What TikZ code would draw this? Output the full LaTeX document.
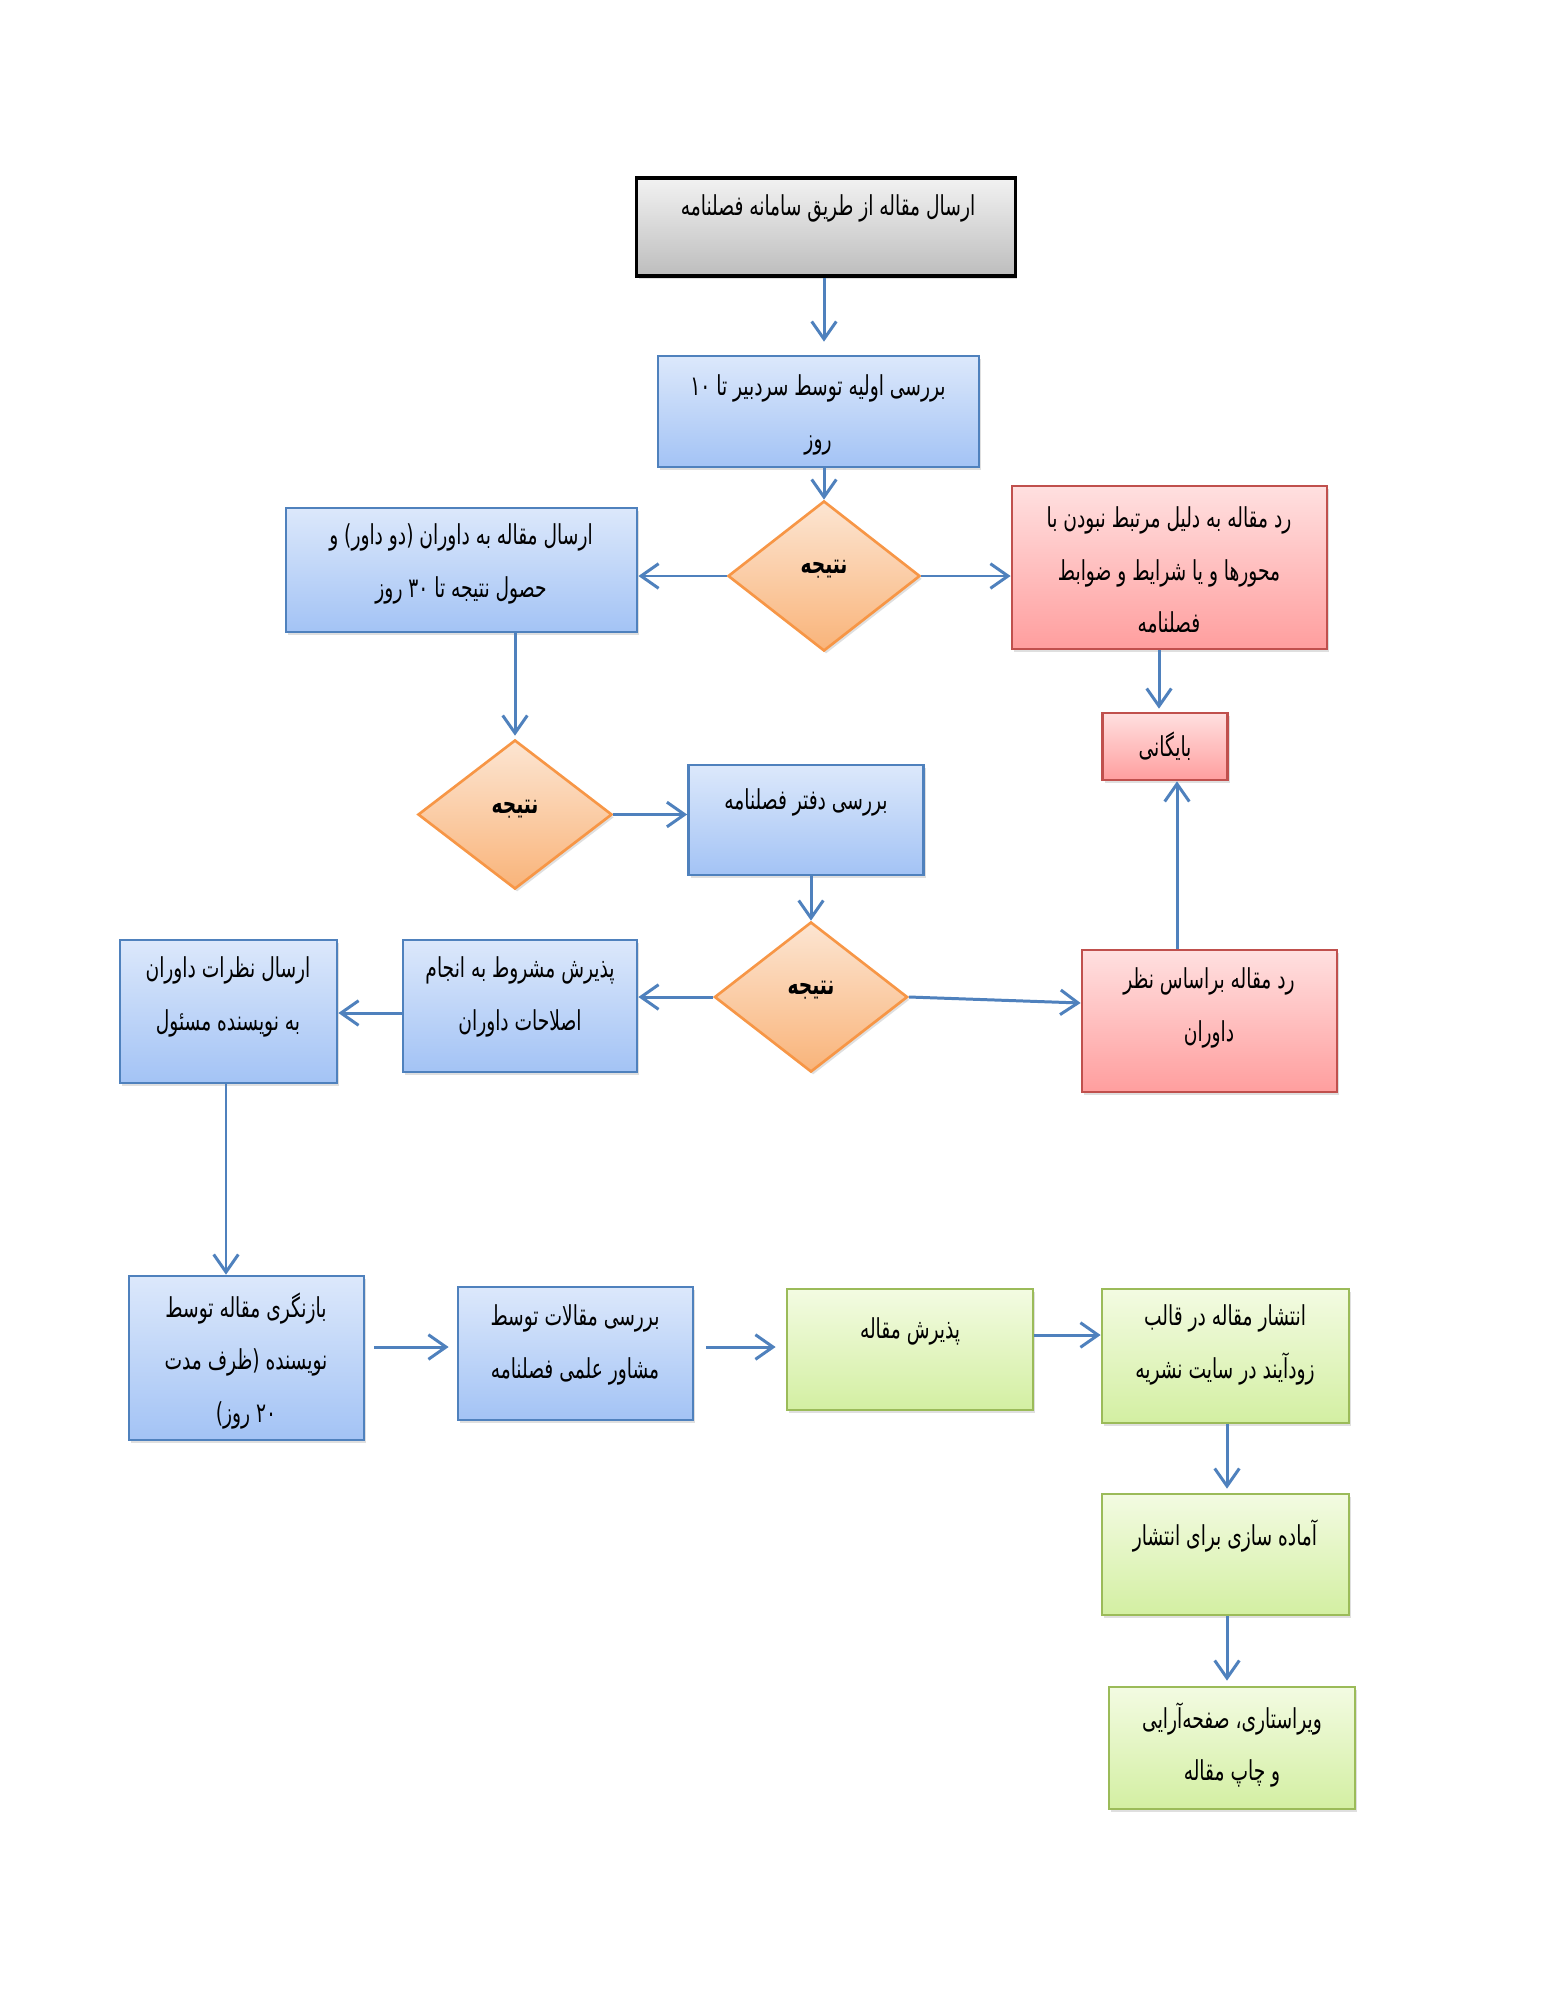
\documentclass[tikz,border=0pt]{standalone}
\usepackage{fontspec}
\TeXXeTstate=1
\newfontfamily\fa[Script=Arabic,FakeStretch=0.68]{DejaVu Sans}
\usetikzlibrary{shapes.geometric,arrows.meta,shadows,calc}
\definecolor{arrblue}{HTML}{4F81BD}
\definecolor{bluetop}{HTML}{DCE8FB}
\definecolor{bluebot}{HTML}{A3C3F5}
\definecolor{blueedge}{HTML}{4F81BD}
\definecolor{orangetop}{HTML}{FCE5D2}
\definecolor{orangebot}{HTML}{F9B47A}
\definecolor{orangeedge}{HTML}{F79646}
\definecolor{redtop}{HTML}{FFE0E0}
\definecolor{redbot}{HTML}{FF9E9E}
\definecolor{rededge}{HTML}{C0504D}
\definecolor{greentop}{HTML}{F3FBE2}
\definecolor{greenbot}{HTML}{D3EFA2}
\definecolor{greenedge}{HTML}{9BBB59}
\definecolor{graytop}{HTML}{F2F2F2}
\definecolor{graybot}{HTML}{BDBDBD}
\begin{document}
\begin{tikzpicture}[x=0.01cm,y=-0.01cm,
  shade/.style={drop shadow={opacity=0.25,shadow xshift=0.6pt,shadow yshift=-0.8pt}},
  basebox/.style={rectangle,inner sep=0pt,shade},
  graybox/.style={basebox,draw=black,line width=0.9pt,top color=graytop,bottom color=graybot},
  bluebox/.style={basebox,draw=blueedge,line width=0.75pt,top color=bluetop,bottom color=bluebot},
  redbox/.style={basebox,draw=rededge,line width=0.75pt,top color=redtop,bottom color=redbot},
  greenbox/.style={basebox,draw=greenedge,line width=0.75pt,top color=greentop,bottom color=greenbot},
  decision/.style={diamond,inner sep=0pt,shade,draw=orangeedge,line width=0.75pt,top color=orangetop,bottom color=orangebot},
  txt/.style={font=\fa\fontsize{7.8}{15}\selectfont,align=center,inner sep=0pt},
  dtxt/.style={font=\fa\bfseries\fontsize{7.8}{15}\selectfont,align=center,inner sep=0pt},
  arr/.style={draw=arrblue,line width=0.85pt,-{Straight Barb[length=5pt,width=7pt,line width=0.85pt]}}
]
\fill[white] (0,0) rectangle (1545,2000);
\useasboundingbox (0,0) rectangle (1545,2000);

% boxes
\node[graybox,minimum width=3.78cm,minimum height=0.98cm] (g) at (826,227) {};
\node[bluebox,minimum width=3.21cm,minimum height=1.11cm] (b2) at (818.5,411.5) {};
\node[decision,minimum width=1.92cm,minimum height=1.50cm] (d1) at (824,576) {};
\node[bluebox,minimum width=3.51cm,minimum height=1.24cm] (b3) at (461.5,570) {};
\node[redbox,minimum width=3.15cm,minimum height=1.63cm] (r1) at (1169.5,567.5) {};
\node[redbox,minimum width=1.25cm,minimum height=0.67cm] (arch) at (1165,746.5) {};
\node[decision,minimum width=1.94cm,minimum height=1.49cm] (d2) at (515,814.5) {};
\node[bluebox,minimum width=2.35cm,minimum height=1.10cm] (b4) at (806,820) {};
\node[decision,minimum width=1.93cm,minimum height=1.50cm] (d3) at (811,997) {};
\node[redbox,minimum width=2.55cm,minimum height=1.42cm] (r2) at (1209.5,1021) {};
\node[bluebox,minimum width=2.34cm,minimum height=1.32cm] (b5) at (520,1006) {};
\node[bluebox,minimum width=2.17cm,minimum height=1.43cm] (b6) at (228.5,1011.5) {};
\node[bluebox,minimum width=2.35cm,minimum height=1.64cm] (b7) at (246.5,1358) {};
\node[bluebox,minimum width=2.35cm,minimum height=1.33cm] (b8) at (575.5,1353.5) {};
\node[greenbox,minimum width=2.46cm,minimum height=1.21cm] (gr1) at (910,1349.5) {};
\node[greenbox,minimum width=2.47cm,minimum height=1.34cm] (gr2) at (1225.5,1356) {};
\node[greenbox,minimum width=2.47cm,minimum height=1.21cm] (gr3) at (1225.5,1554.5) {};
\node[greenbox,minimum width=2.46cm,minimum height=1.22cm] (gr4) at (1232,1748) {};

% texts
\node[txt] (tg) at (828,208) {\beginR ارسال مقاله از طریق سامانه فصلنامه\endR};
\node[txt] (tb2) at (818,415) {\beginR بررسی اولیه توسط سردبیر تا \beginL ۱۰\endL{}\endR\\\beginR روز\endR};
\node[dtxt] (td1) at (824,569) {\beginR نتیجه\endR};
\node[txt] (tb3) at (461,564) {\beginR ارسال مقاله به داوران (دو داور) و\endR\\\beginR حصول نتیجه تا \beginL ۳۰\endL{} روز\endR};
\node[txt] (tr1) at (1169,570) {\beginR رد مقاله به دلیل مرتبط نبودن با\endR\\\beginR محورها و یا شرایط و ضوابط\endR\\\beginR فصلنامه\endR};
\node[txt] (tarch) at (1165,746) {\beginR بایگانی\endR};
\node[dtxt] (td2) at (515,809) {\beginR نتیجه\endR};
\node[txt] (tb4) at (806,802) {\beginR بررسی دفتر فصلنامه\endR};
\node[dtxt] (td3) at (811,990) {\beginR نتیجه\endR};
\node[txt] (tb5) at (520,997) {\beginR پذیرش مشروط به انجام\endR\\\beginR اصلاحات داوران\endR};
\node[txt] (tb6) at (228,997) {\beginR ارسال نظرات داوران\endR\\\beginR به نویسنده مسئول\endR};
\node[txt] (tr2) at (1209,1008) {\beginR رد مقاله براساس نظر\endR\\\beginR داوران\endR};
\node[txt] (tb7) at (246,1361) {\beginR بازنگری مقاله توسط\endR\\\beginR نویسنده (ظرف مدت\endR\\\beginR \beginL ۲۰\endL{} روز)\endR};
\node[txt] (tb8) at (575,1345) {\beginR بررسی مقالات توسط\endR\\\beginR مشاور علمی فصلنامه\endR};
\node[txt] (tgr1) at (910,1331) {\beginR پذیرش مقاله\endR};
\node[txt] (tgr2) at (1225,1345) {\beginR انتشار مقاله در قالب\endR\\\beginR زودآیند در سایت نشریه\endR};
\node[txt] (tgr3) at (1225,1536) {\beginR آماده سازی برای انتشار\endR};
\node[txt] (tgr4) at (1232,1745) {\beginR ویراستاری، صفحه‌آرایی\endR\\\beginR و چاپ مقاله\endR};

% connectors
\draw[arr,shorten >=0.13cm] ($(g.south)+(-2,0)$) -- ($(b2.north)+(5.5,0)$);
\draw[arr] ($(b2.south)+(5.5,0)$) -- (d1.north);
\draw[arr] (d1.west) -- (d1.west -| b3.east);
\draw[arr] (d1.east) -- (d1.east -| r1.west);
\draw[arr,shorten >=0.03cm] ($(b3.south)+(53.5,0)$) -- (d2.north);
\draw[arr,shorten >=0.03cm] ($(r1.south)+(-10.5,0)$) -- ($(arch.north)+(-6,0)$);
\draw[arr] (d2.east) -- (d2.east -| b4.west);
\draw[arr] ($(b4.south)+(5,0)$) -- (d3.north);
\draw[arr] (d3.west) -- (d3.west -| b5.east);
\draw[arr] (d3.east) -- ($(r2.west)+(0,-18)$);
\draw[arr] ($(r2.north)+(-32.5,0)$) -- ($(arch.south)+(12,0)$);
\draw[arr] ($(b5.west)+(0,7)$) -- ($(b6.east)+(0,1.5)$);
\draw[arr] ($(b6.south)+(-2.5,0)$) -- ($(b7.north)+(-20.5,0)$);
\draw[arr,shorten <=0.09cm,shorten >=0.08cm] ($(b7.east)+(0,-11)$) -- ($(b8.west)+(0,-6.5)$);
\draw[arr,shorten <=0.12cm,shorten >=0.10cm] ($(b8.east)+(0,-6.5)$) -- ($(gr1.west)+(0,-2.5)$);
\draw[arr] ($(gr1.east)+(0,-14.5)$) -- ($(gr2.west)+(0,-21)$);
\draw[arr,shorten >=0.04cm] ($(gr2.south)+(1.5,0)$) -- ($(gr3.north)+(1.5,0)$);
\draw[arr,shorten >=0.05cm] ($(gr3.south)+(1.5,0)$) -- ($(gr4.north)+(-5,0)$);
\end{tikzpicture}
\end{document}
